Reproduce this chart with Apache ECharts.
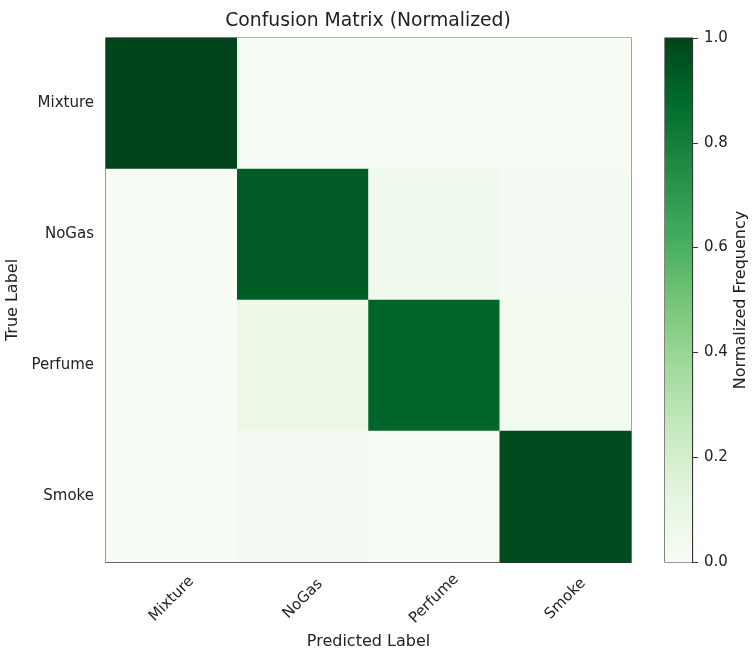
<!DOCTYPE html>
<html>
<head>
<meta charset="utf-8">
<script src="https://cdn.jsdelivr.net/npm/echarts@6/dist/echarts.min.js"></script>
<style>
  html, body { margin: 0; padding: 0; background: #fff; }
  #chart { width: 755px; height: 655px; }
</style>
</head>
<body>
<div id="chart"></div>
<script>
  // class names, same order on both axes
  var classes = ['Mixture', 'NoGas', 'Perfume', 'Smoke'];

  // normalized confusion matrix rows (true label)
  var rowMixture = [1.00, 0.00, 0.00, 0.00];
  var rowNoGas   = [0.00, 0.93, 0.05, 0.02];
  var rowPerfume = [0.00, 0.07, 0.90, 0.03];
  var rowSmoke   = [0.00, 0.015, 0.005, 0.98];
  var rows = [rowMixture, rowNoGas, rowPerfume, rowSmoke];

  var colorbarTicks = [0, 0.2, 0.4, 0.6, 0.8, 1.0];

  // matplotlib "Greens"
  var greens = ['#f7fcf5', '#e5f5e0', '#c7e9c0', '#a1d99b', '#74c476',
                '#41ab5d', '#238b45', '#006d2c', '#00441b'];

  var cells = [];
  rows.forEach(function (row, y) {
    row.forEach(function (v, x) { cells.push([x, y, v]); });
  });

  var stops = greens.map(function (c, i) {
    return { offset: 1 - i / (greens.length - 1), color: c };
  });

  var font = 'DejaVu Sans';
  var ink = '#222';
  var frame = '#333';

  var option = {
    backgroundColor: '#fff',
    textStyle: { fontFamily: font },
    title: {
      text: 'Confusion Matrix (Normalized)',
      left: 363, top: 7, textAlign: 'center',
      textStyle: { fontFamily: font, fontSize: 18.8, fontWeight: 'normal', color: ink }
    },
    visualMap: {
      show: false, min: 0, max: 1, seriesIndex: 0,
      inRange: { color: greens }
    },
    grid: [
      { left: 106, top: 38, width: 525, height: 524, show: true, outerBoundsMode: 'none',
        borderColor: frame, borderWidth: 1.2, backgroundColor: 'transparent' },
      { left: 665, top: 38, width: 27, height: 524, show: true, outerBoundsMode: 'none',
        borderColor: frame, borderWidth: 1.2, backgroundColor: 'transparent' }
    ],
    xAxis: [
      {
        type: 'category', gridIndex: 0, data: classes,
        name: 'Predicted Label', nameLocation: 'middle', nameGap: 72,
        nameTextStyle: { fontSize: 16, color: ink },
        axisLine: { lineStyle: { color: frame, width: 1.2 } },
        axisTick: { alignWithLabel: true, length: 5, lineStyle: { color: frame } },
        axisLabel: { rotate: 45, fontSize: 15, color: ink, margin: 37,
          align: 'center', verticalAlign: 'middle' },
        splitLine: { show: false }
      },
      {
        type: 'category', gridIndex: 1, data: [''],
        axisLine: { show: false }, axisTick: { show: false }, axisLabel: { show: false }
      }
    ],
    yAxis: [
      {
        type: 'category', gridIndex: 0, data: classes, inverse: true,
        name: 'True Label', nameLocation: 'middle', nameGap: 80, nameRotate: 90,
        nameTextStyle: { fontSize: 16, color: ink },
        axisLine: { lineStyle: { color: frame, width: 1.2 } },
        axisTick: { alignWithLabel: true, length: 5, lineStyle: { color: frame } },
        axisLabel: { fontSize: 15, color: ink, margin: 12 },
        splitLine: { show: false }
      },
      {
        type: 'value', gridIndex: 1, position: 'right', min: 0, max: 1, interval: 0.2,
        name: 'Normalized Frequency', nameLocation: 'middle', nameGap: 41, nameRotate: 90,
        nameTextStyle: { fontSize: 16, color: ink },
        axisLine: { show: true, lineStyle: { color: frame, width: 1.2 } },
        axisTick: { show: true, length: 6, lineStyle: { color: frame } },
        axisLabel: { fontSize: 15, color: ink, margin: 12,
          formatter: function (v) { return v.toFixed(1); } },
        splitLine: { show: false }
      }
    ],
    series: [
      {
        type: 'heatmap', xAxisIndex: 0, yAxisIndex: 0, data: cells,
        itemStyle: { borderWidth: 0 },
        emphasis: { disabled: true }
      },
      {
        type: 'bar', xAxisIndex: 1, yAxisIndex: 1,
        data: [colorbarTicks[colorbarTicks.length - 1]],
        barWidth: '100%', silent: true,
        itemStyle: { color: new echarts.graphic.LinearGradient(0, 0, 0, 1, stops) }
      }
    ]
  };

  var chart = echarts.init(document.getElementById('chart'));
  chart.setOption(option);
</script>
</body>
</html>
